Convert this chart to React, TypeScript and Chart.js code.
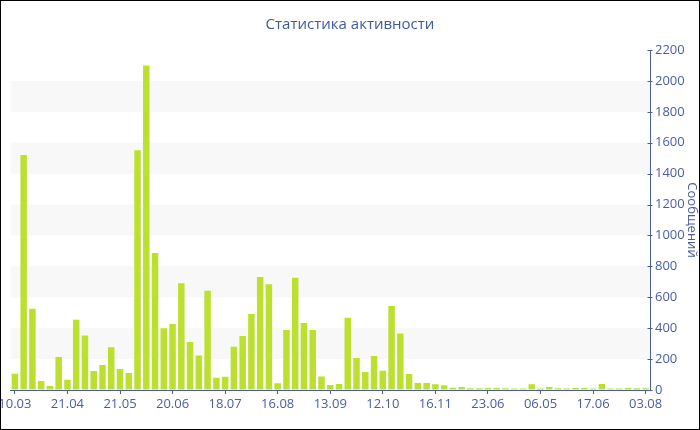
import React, { useEffect, useRef } from "react";
import { Chart, registerables } from "chart.js";

Chart.register(...registerables);

const TITLE = "Статистика активности";
const Y_TITLE = "Сообщений";
const TICK_LABELS = ["10.03", "21.04", "21.05", "20.06", "18.07", "16.08", "13.09", "12.10", "16.11", "23.06", "06.05", "17.06", "03.08"];
const TICK_EVERY = 6;
const VALUES = [
  105, 1520, 525, 58, 26, 214, 67, 455, 352, 123, 162, 276, 136, 110, 1551, 2100,
  887, 399, 427, 690, 311, 224, 643, 80, 86, 280, 349, 492, 731, 684, 43, 388,
  727, 434, 388, 88, 32, 39, 468, 207, 116, 220, 125, 544, 365, 104, 45, 45,
  37, 30, 15, 19, 11, 11, 13, 13, 11, 9, 9, 37, 9, 19, 11, 9, 13, 13, 9, 39,
  9, 9, 13, 11, 11,
];
const CATEGORIES = VALUES.map((_, i) => (i % TICK_EVERY === 0 ? TICK_LABELS[i / TICK_EVERY] ?? "" : ""));
const BANDS: [number, number][] = [[200, 400], [600, 800], [1000, 1200], [1400, 1600], [1800, 2000]];

const BLUE = "#4a5ca6";
const FONT = "'Open Sans', sans-serif";

const bandsPlugin = {
  id: "bands",
  beforeDatasetsDraw(chart: any) {
    const { ctx, chartArea, scales } = chart;
    const y = scales.y;
    ctx.save();
    ctx.fillStyle = "#f8f8f8";
    for (const [a, b] of BANDS) {
      const y1 = y.getPixelForValue(b);
      const y2 = y.getPixelForValue(a);
      ctx.fillRect(chartArea.left, y1, chartArea.right - chartArea.left, y2 - y1);
    }
    ctx.restore();
  },
  afterDraw(chart: any) {
    const { ctx, scales, chartArea } = chart;
    const y = scales.y;
    ctx.save();
    ctx.strokeStyle = BLUE;
    ctx.lineWidth = 1;
    const ax = Math.round(chartArea.right) + 0.5;
    for (const t of y.ticks) {
      const py = Math.round(y.getPixelForValue(t.value)) + 0.5;
      const major = t.value % 200 === 0;
      ctx.beginPath();
      ctx.moveTo(ax - 3, py);
      ctx.lineTo(major ? ax + 2 : ax, py);
      ctx.stroke();
    }
    ctx.strokeStyle = "#000";
    ctx.strokeRect(0.5, 0.5, chart.width - 1, chart.height - 1);
    ctx.restore();
  },
};

export default function App() {
  const ref = useRef<HTMLCanvasElement | null>(null);
  useEffect(() => {
    if (!ref.current) return;
    const chart = new Chart(ref.current, {
      type: "bar",
      data: {
        labels: CATEGORIES,
        datasets: [
          {
            data: VALUES,
            backgroundColor: "#bce030",
            borderWidth: 0,
            categoryPercentage: 1,
            barPercentage: 0.74,
          },
        ],
      },
      options: {
        responsive: false,
        animation: false,
        layout: { padding: 0 },
        plugins: {
          legend: { display: false },
          tooltip: { enabled: false },
          title: {
            display: true,
            text: TITLE,
            color: "#3f58a6",
            font: { family: FONT, size: 15, weight: "normal" },
            padding: { top: 16, bottom: 16 },
          },
        },
        scales: {
          x: {
            offset: true,
            grid: { drawOnChartArea: false, tickLength: 4, tickColor: BLUE, offset: false },
            border: { color: BLUE },
            ticks: { autoSkip: false, maxRotation: 0, color: BLUE, padding: 2, font: { family: FONT, size: 13 } },
            afterBuildTicks(scale: any) {
              scale.ticks = scale.ticks.filter((t: any) => t.value % TICK_EVERY === 0);
            },
            afterFit(scale: any) {
              scale.height = 40;
              scale.paddingLeft = 10.5;
              scale.paddingRight = 0;
            },
          },
          y: {
            position: "right",
            min: 0,
            max: 2200,
            grid: { drawOnChartArea: false, drawTicks: false },
            border: { color: BLUE },
            ticks: {
              stepSize: 100,
              color: BLUE,
              padding: 5,
              font: { family: FONT, size: 13 },
              callback: (v: any) => (Number(v) % 200 === 0 ? String(v) : ""),
            },
            title: {
              display: true,
              text: Y_TITLE,
              color: BLUE,
              font: { family: FONT, size: 13 },
              padding: 0,
            },
            afterFit(scale: any) {
              scale.width = 50;
            },
          },
        },
      },
      plugins: [bandsPlugin],
    });
    return () => chart.destroy();
  }, []);
  return (
    <div style={{ position: "fixed", left: 0, top: 0, width: 700, height: 430, background: "#fff" }}>
      <canvas ref={ref} width={700} height={430} />
    </div>
  );
}
